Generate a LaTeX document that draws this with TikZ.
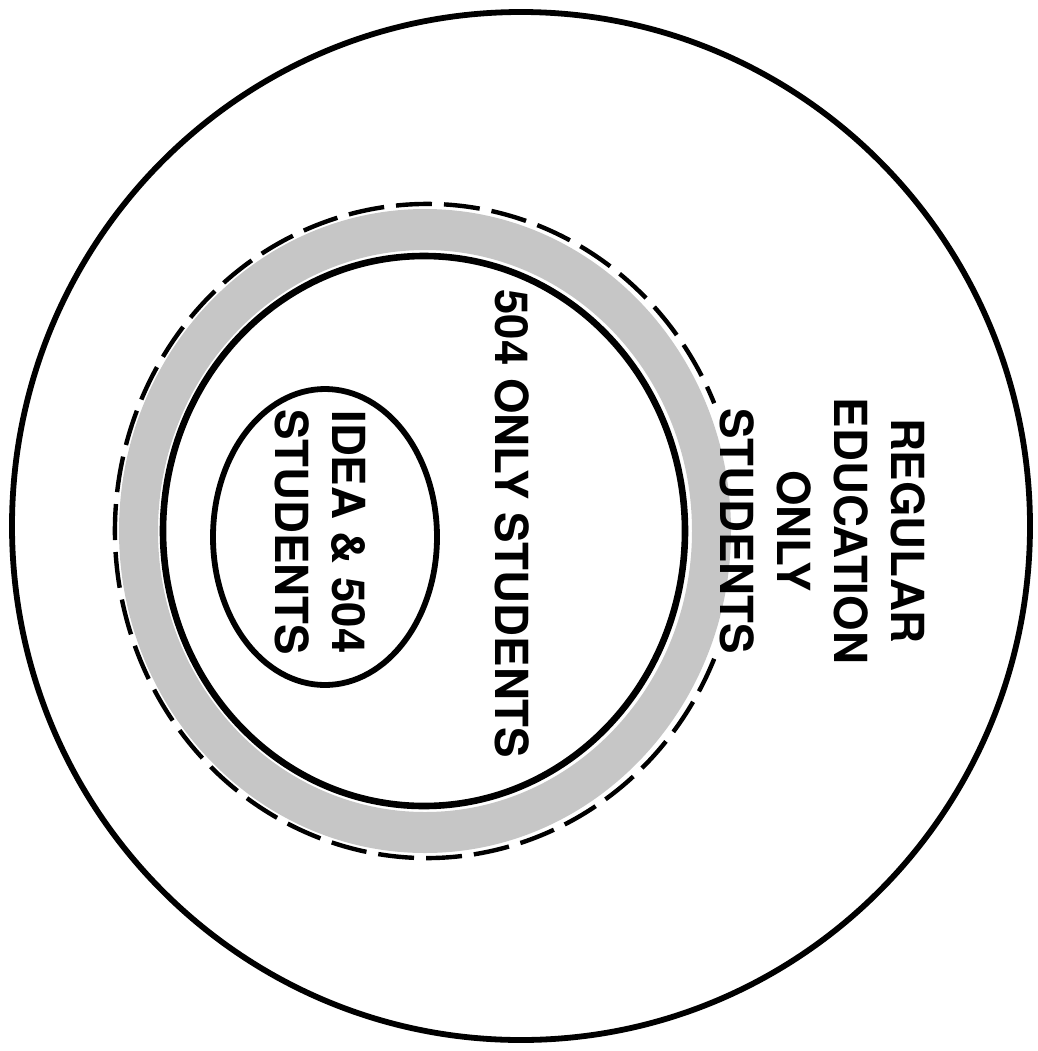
\documentclass[tikz,border=0pt]{standalone}
\usepackage{fontspec}
\setmainfont{TeX Gyre Heros}
\usepackage{tikz}
\usepackage{xcolor}
\definecolor{bandgray}{RGB}{198,198,198}

\begin{document}
\begin{tikzpicture}[x=0.5pt, y=-0.5pt,
    ring/.style={line width=2.9pt},
    grouplabel/.style={font=\bfseries\fontsize{22.8}{28.5}\selectfont, rotate=-90, align=center, inner sep=0pt}]
    \useasboundingbox (0,0) rectangle (1038,1051);

    % Regular education (outer circle)
    \draw[ring] (521,526) ellipse [x radius=509, y radius=514];

    % Gray band round the 504 circle
    \fill[bandgray, even odd rule] (425,531) ellipse [x radius=306, y radius=322]
        (425,531) ellipse [x radius=267, y radius=281];

    % Dashed boundary (open behind the label)
    \draw[line width=2.2pt, dash pattern=on 18pt off 6pt, shift={(427,531)}]
        (23:312 and 327) arc [start angle=23, end angle=337, x radius=312, y radius=327];

    % 504 circle
    \draw[ring, line width=3.3pt] (424,531) ellipse [x radius=261, y radius=275];

    % IDEA & 504 ellipse
    \draw[ring] (325,537) ellipse [x radius=112, y radius=148];

    % Labels
    \node[grouplabel] (regular) at (823,531) {REGULAR\\EDUCATION\\ONLY\\STUDENTS};
    \node[grouplabel] (only504) at (512,524) {504 ONLY STUDENTS};
    \node[grouplabel] (idea) at (320,532) {IDEA \& 504\\STUDENTS};
\end{tikzpicture}
\end{document}
